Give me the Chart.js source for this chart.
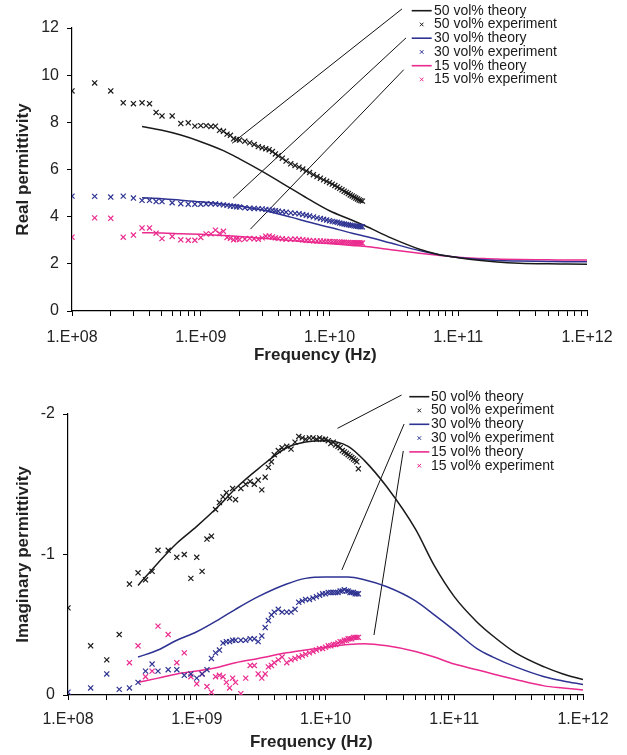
<!DOCTYPE html>
<html>
<head>
<meta charset="utf-8">
<script src="https://cdn.jsdelivr.net/npm/chart.js@4.4.1/dist/chart.umd.min.js"></script>
<style>
  body { margin: 0; background: #fff; }
  canvas { display: block; }
</style>
</head>
<body>
<canvas id="realChart" width="627" height="370"></canvas>
<canvas id="imagChart" width="627" height="385"></canvas>
<script>
// measured frequencies (Hz), same grid for the three samples
const freqExp = [1e8, 1.5e8, 2e8, 2.5e8, 3e8, 3.5e8, 4e8, 4.5e8, 5e8, 6e8, 7e8, 8e8, 9e8,
  1e9, 1.1e9, 1.2e9, 1.3e9, 1.4e9, 1.5e9, 1.6e9, 1.7e9, 1.8e9, 1.9e9, 2e9,
  2.2e9, 2.4e9, 2.6e9, 2.8e9, 3e9, 3.2e9, 3.4e9, 3.6e9, 3.8e9, 4e9, 4.3e9, 4.6e9,
  5e9, 5.4e9, 5.8e9, 6.2e9, 6.6e9, 7e9, 7.5e9, 8e9, 8.5e9, 9e9, 9.5e9,
  1e10, 1.05e10, 1.1e10, 1.15e10, 1.2e10, 1.25e10, 1.3e10, 1.35e10, 1.4e10, 1.45e10,
  1.5e10, 1.55e10, 1.6e10, 1.65e10, 1.7e10, 1.75e10, 1.8e10];

// real permittivity, experiment
const re50exp = [9.33, 9.67, 9.33, 8.83, 8.79, 8.83, 8.79, 8.42, 8.27, 8.27, 7.95, 7.98, 7.84,
  7.86, 7.86, 7.82, 7.84, 7.66, 7.62, 7.50, 7.45, 7.30, 7.27, 7.25,
  7.20, 7.13, 7.06, 6.97, 6.92, 6.88, 6.84, 6.76, 6.66, 6.58, 6.48, 6.36,
  6.24, 6.17, 6.10, 6.02, 5.94, 5.87, 5.78, 5.70, 5.63, 5.56, 5.50,
  5.44, 5.38, 5.32, 5.26, 5.20, 5.14, 5.08, 5.03, 4.98, 4.92,
  4.88, 4.83, 4.79, 4.75, 4.71, 4.68, 4.66];
const re30exp = [4.87, 4.86, 4.83, 4.87, 4.79, 4.69, 4.69, 4.64, 4.64, 4.59, 4.55, 4.53, 4.53,
  4.53, 4.54, 4.55, 4.54, 4.52, 4.50, 4.48, 4.45, 4.44, 4.42, 4.41,
  4.38, 4.36, 4.35, 4.34, 4.33, 4.31, 4.29, 4.27, 4.25, 4.23, 4.21, 4.19,
  4.16, 4.14, 4.12, 4.09, 4.06, 4.03, 3.99, 3.95, 3.92, 3.89, 3.86,
  3.83, 3.80, 3.78, 3.76, 3.73, 3.71, 3.69, 3.67, 3.66, 3.64,
  3.63, 3.61, 3.60, 3.59, 3.58, 3.57, 3.57];
const re15exp = [3.13, 3.95, 3.93, 3.13, 3.22, 3.52, 3.52, 3.30, 3.07, 3.16, 3.02, 3.00, 3.00,
  3.12, 3.27, 3.27, 3.43, 3.29, 3.38, 3.12, 3.08, 3.02, 3.05, 3.03,
  3.05, 3.08, 3.06, 3.04, 3.10, 3.17, 3.18, 3.14, 3.10, 3.08, 3.06, 3.04,
  3.04, 3.05, 3.04, 3.02, 3.00, 2.99, 2.98, 2.97, 2.97, 2.96, 2.95,
  2.95, 2.94, 2.94, 2.93, 2.93, 2.92, 2.92, 2.91, 2.91, 2.90,
  2.90, 2.90, 2.89, 2.89, 2.89, 2.88, 2.88];

// imaginary permittivity, experiment (null = off the plot)
const im50exp = [-0.62, -0.35, -0.25, -0.43, -0.79, -0.87, -0.82, -0.88, -1.03, -1.03, -0.98, -1.00, -0.83,
  -0.98, -0.88, -1.11, -1.13, -1.32, -1.37, -1.41, -1.44, -1.40, -1.47, -1.39,
  -1.47, -1.50, -1.52, -1.50, -1.53, -1.46, -1.55, -1.62, -1.66, -1.71, -1.74, -1.76,
  -1.77, -1.75, -1.80, -1.84, -1.83, -1.82, -1.83, -1.83, -1.82, -1.83, -1.82,
  -1.82, -1.81, -1.79, -1.80, -1.78, -1.77, -1.76, -1.74, -1.73, -1.72,
  -1.71, -1.70, -1.69, -1.68, -1.67, -1.66, -1.61];
const im30exp = [-0.02, -0.05, -0.15, -0.04, -0.05, -0.09, -0.17, -0.22, -0.17, -0.18, -0.18, -0.14, -0.15,
  -0.12, -0.15, -0.18, -0.26, -0.30, -0.32, -0.37, -0.38, -0.38, -0.39, -0.39,
  -0.39, -0.39, -0.40, -0.40, -0.38, -0.42, -0.48, -0.53, -0.57, -0.59, -0.61, -0.59,
  -0.59, -0.59, -0.61, -0.66, -0.67, -0.68, -0.68, -0.69, -0.70, -0.71, -0.72,
  -0.72, -0.73, -0.73, -0.73, -0.73, -0.73, -0.74, -0.74, -0.75, -0.74,
  -0.74, -0.73, -0.73, -0.73, -0.72, -0.72, -0.72];
const im15exp = [null, null, null, null, -0.23, -0.35, -0.13, -0.17, -0.49, -0.43, -0.23, -0.30, -0.13,
  -0.08, -0.15, -0.06, -0.02, -0.13, -0.14, -0.13, -0.09, -0.05, -0.12, -0.09,
  -0.01, -0.12, -0.21, -0.21, -0.15, -0.12, -0.15, -0.20, -0.21, -0.23, -0.25, -0.27,
  -0.23, -0.25, -0.26, -0.27, -0.28, -0.29, -0.30, -0.31, -0.32, -0.33, -0.33,
  -0.34, -0.35, -0.35, -0.36, -0.36, -0.37, -0.38, -0.38, -0.39, -0.39,
  -0.40, -0.40, -0.40, -0.41, -0.41, -0.41, -0.41];

// theory curves
const freqTheory = [3.5e8, 5e8, 7e8, 1e9, 1.5e9, 2e9, 3e9, 5e9, 7e9, 1e10, 1.5e10, 2e10,
  3e10, 5e10, 7e10, 1e11, 1.5e11, 2e11, 3e11, 5e11, 7e11, 1e12];
const re50th = [7.82, 7.66, 7.46, 7.18, 6.80, 6.45, 5.92, 5.20, 4.72, 4.25, 3.85, 3.55,
  3.10, 2.62, 2.40, 2.26, 2.14, 2.08, 2.03, 2.00, 1.99, 1.98];
const re30th = [4.80, 4.76, 4.70, 4.63, 4.53, 4.45, 4.28, 3.98, 3.76, 3.55, 3.30, 3.14,
  2.88, 2.56, 2.40, 2.27, 2.18, 2.14, 2.12, 2.10, 2.09, 2.09];
const re15th = [3.32, 3.31, 3.28, 3.25, 3.20, 3.16, 3.09, 2.99, 2.92, 2.86, 2.78, 2.72,
  2.60, 2.45, 2.36, 2.28, 2.23, 2.20, 2.18, 2.17, 2.16, 2.16];
const im50th = [-0.78, -0.94, -1.08, -1.20, -1.35, -1.47, -1.61, -1.76, -1.80, -1.81, -1.77, -1.67,
  -1.48, -1.18, -0.92, -0.70, -0.52, -0.42, -0.30, -0.20, -0.15, -0.11];
const im30th = [-0.27, -0.32, -0.39, -0.45, -0.54, -0.61, -0.70, -0.79, -0.83, -0.84, -0.84, -0.82,
  -0.77, -0.67, -0.57, -0.46, -0.33, -0.27, -0.20, -0.13, -0.10, -0.075];
const im15th = [-0.09, -0.12, -0.15, -0.17, -0.20, -0.23, -0.26, -0.30, -0.32, -0.34, -0.36, -0.365,
  -0.35, -0.31, -0.27, -0.22, -0.18, -0.15, -0.11, -0.065, -0.05, -0.036];

// pointer lines from the legend: [freq start, value start, freq end, value end]
const leaderReal = [[3.66e10, 12.81, 1.75e9, 7.11], [3.93e10, 11.58, 1.78e9, 4.78], [3.77e10, 10.23, 2.43e9, 3.47]];
const leaderImag = [[3.90e10, -2.135, 1.24e10, -1.898], [4.08e10, -1.929, 1.34e10, -0.890], [4.02e10, -1.737, 2.38e10, -0.427]];

const legendLabels = ['50 vol% theory', '50 vol% experiment', '30 vol% theory',
  '30 vol% experiment', '15 vol% theory', '15 vol% experiment'];

const black = '#1a1a1a', blue = '#2e3392', pink = '#ea2a8e';

Chart.defaults.font.family = '"Liberation Sans", Arial, sans-serif';
Chart.defaults.color = '#222';

const logTicks = [];
for (let e = 8; e < 12; e++) for (let m = 1; m < 10; m++) logTicks.push(m * Math.pow(10, e));
logTicks.push(1e12);

function pts(xs, ys) {
  return xs.map((x, i) => ({x: x, y: ys[i]})).filter(p => p.y !== null);
}
function theory(ys, color) {
  return {data: pts(freqTheory, ys), borderColor: color, borderWidth: 1.5, pointRadius: 0,
    cubicInterpolationMode: 'monotone', order: 1};
}
function experiment(ys, color) {
  return {data: pts(freqExp, ys), showLine: false, pointStyle: 'crossRot', pointRadius: 3.6,
    pointBorderWidth: 1.2, pointBorderColor: color, borderColor: color, order: 0};
}
function leader(l) {
  return {data: [{x: l[0], y: l[1]}, {x: l[2], y: l[3]}], borderColor: '#111', borderWidth: 1,
    pointRadius: 0, clip: false, order: 2};
}

const refLegend = {
  id: 'refLegend',
  afterDatasetsDraw(chart, args, opts) {
    const ctx = chart.ctx;
    ctx.save();
    ctx.font = '14px "Liberation Sans", Arial, sans-serif';
    ctx.textBaseline = 'middle';
    legendLabels.forEach((label, i) => {
      const y = opts.y + i * opts.step;
      const ds = chart.data.datasets[i];
      ctx.strokeStyle = ds.borderColor;
      ctx.beginPath();
      if (ds.showLine === false) {
        const c = opts.x + 10, r = 1.8;
        ctx.lineWidth = 1;
        ctx.moveTo(c - r, y - r); ctx.lineTo(c + r, y + r);
        ctx.moveTo(c - r, y + r); ctx.lineTo(c + r, y - r);
      } else {
        ctx.lineWidth = 1.6;
        ctx.moveTo(opts.x, y); ctx.lineTo(opts.x + 20, y);
      }
      ctx.stroke();
      ctx.fillStyle = '#1a1a1a';
      ctx.fillText(label, opts.textX, y);
    });
    ctx.restore();
  }
};

// the axis title sits a little left of the plot centre in the original
const xTitle = 'Frequency (Hz)' + '\u00a0'.repeat(6);

function makeOptions(cfg) {
  return {
    responsive: false,
    animation: false,
    devicePixelRatio: 1,
    layout: {padding: cfg.padding},
    plugins: {legend: {display: false}, tooltip: {enabled: false}, refLegend: cfg.legend},
    scales: {
      x: {
        type: 'logarithmic', min: 1e8, max: 1e12,
        afterBuildTicks: s => { s.ticks = logTicks.map(v => ({value: v})); },
        afterFit: s => { s.height = cfg.xHeight; },
        grid: {drawOnChartArea: false, tickLength: 5, color: '#000'},
        border: {color: '#000', width: 1.2},
        ticks: {
          autoSkip: false, maxRotation: 0, padding: cfg.xPad, font: {size: 16},
          callback: v => {
            const e = Math.log10(v);
            return Math.abs(e - Math.round(e)) < 1e-6 ? '1.E+' + String(Math.round(e)).padStart(2, '0') : '';
          }
        },
        title: {display: true, text: xTitle, font: {size: 17, weight: 'bold'},
          padding: {top: 0, bottom: cfg.xTitlePad}}
      },
      y: {
        min: cfg.yMin, max: cfg.yMax, reverse: cfg.reverse,
        afterFit: s => { s.width = cfg.yWidth; },
        grid: {drawOnChartArea: false, tickLength: 5, color: '#000'},
        border: {color: '#000', width: 1.2},
        ticks: {stepSize: cfg.step, padding: 8, font: {size: 16}},
        title: {display: true, text: cfg.yTitle, font: {size: 17, weight: 'bold'},
          padding: {top: 13, bottom: 0}}
      }
    }
  };
}

new Chart(document.getElementById('realChart'), {
  type: 'line',
  data: {datasets: [
    theory(re50th, black), experiment(re50exp, black),
    theory(re30th, blue), experiment(re30exp, blue),
    theory(re15th, pink), experiment(re15exp, pink)
  ].concat(leaderReal.map(leader))},
  options: makeOptions({
    padding: {left: 0, right: 40, top: 28, bottom: 0},
    xHeight: 59, xPad: 12, xTitlePad: 4, yWidth: 72,
    yMin: 0, yMax: 12, step: 2, reverse: false, yTitle: 'Real permittivity',
    legend: {x: 411.7, textX: 434, y: 10.7, step: 13.75}
  }),
  plugins: [refLegend]
});

new Chart(document.getElementById('imagChart'), {
  type: 'line',
  data: {datasets: [
    theory(im50th, black), experiment(im50exp, black),
    theory(im30th, blue), experiment(im30exp, blue),
    theory(im15th, pink), experiment(im15exp, pink)
  ].concat(leaderImag.map(leader))},
  options: makeOptions({
    padding: {left: 0, right: 44, top: 44, bottom: 0},
    xHeight: 60, xPad: 10, xTitlePad: 2, yWidth: 68,
    yMin: -2, yMax: 0, step: 1, reverse: true, yTitle: 'Imaginary permittivity',
    legend: {x: 409.3, textX: 431, y: 26.7, step: 13.8}
  }),
  plugins: [refLegend]
});
</script>
</body>
</html>
